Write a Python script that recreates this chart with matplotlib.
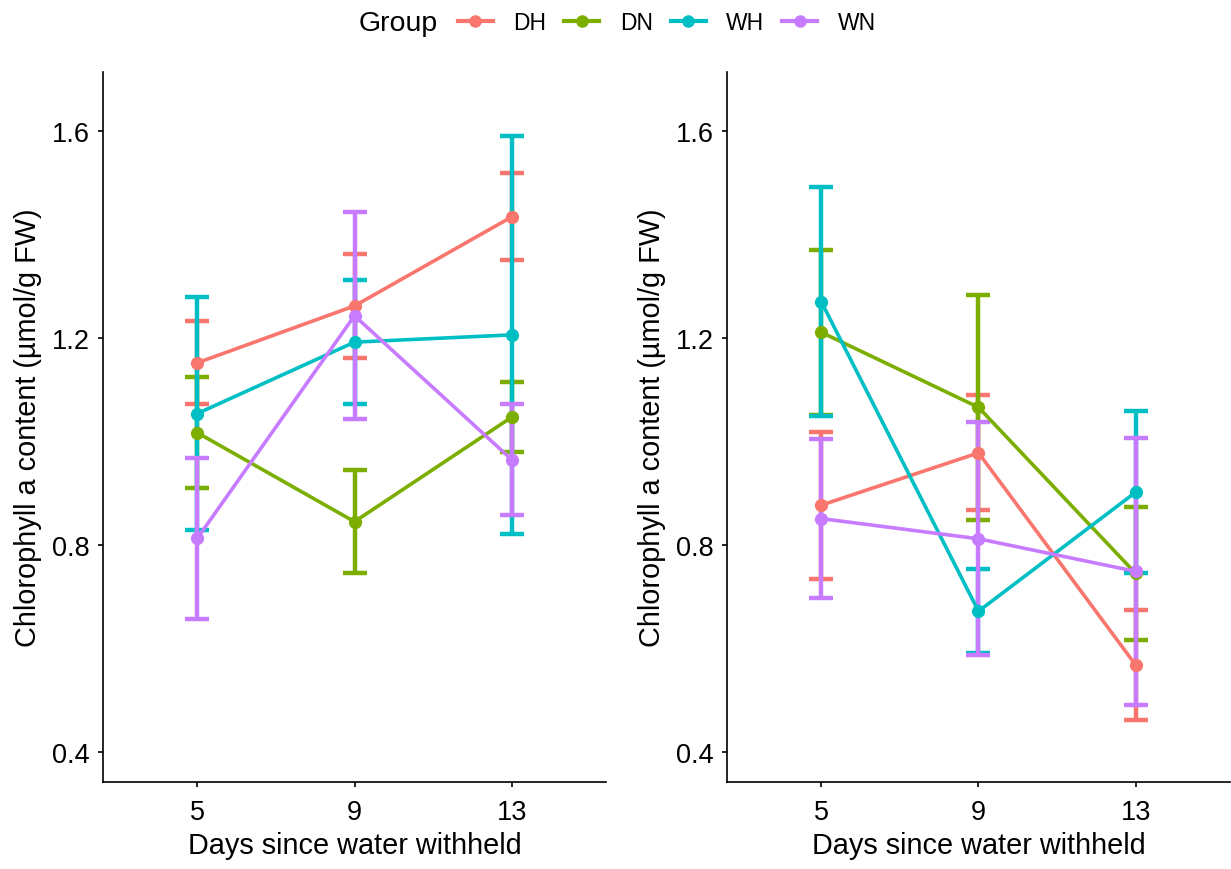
import numpy as np
import matplotlib.pyplot as plt
from matplotlib.lines import Line2D

plt.rcParams['font.family'] = ['Liberation Sans', 'DejaVu Sans']

days = ["5", "9", "13"]
groups = ["DH", "DN", "WH", "WN"]
colors = {"DH": "#F8766D", "DN": "#7CAE00", "WH": "#00BFC4", "WN": "#C77CFF"}

# left panel: mean and error per group at days 5, 9, 13
left_mean = {
    "DH": [1.152, 1.262, 1.434],
    "DN": [1.017, 0.845, 1.047],
    "WH": [1.054, 1.192, 1.206],
    "WN": [0.813, 1.243, 0.965],
}
left_err = {
    "DH": [0.080, 0.100, 0.084],
    "DN": [0.107, 0.099, 0.067],
    "WH": [0.225, 0.120, 0.385],
    "WN": [0.156, 0.200, 0.108],
}

# right panel
right_mean = {
    "DH": [0.877, 0.978, 0.568],
    "DN": [1.211, 1.066, 0.745],
    "WH": [1.270, 0.672, 0.902],
    "WN": [0.851, 0.812, 0.749],
}
right_err = {
    "DH": [0.142, 0.111, 0.107],
    "DN": [0.160, 0.217, 0.128],
    "WH": [0.221, 0.081, 0.157],
    "WN": [0.154, 0.225, 0.258],
}

W, H = 1231, 870
fig = plt.figure(figsize=(W / 100, H / 100), dpi=100)
ax1 = fig.add_axes([103 / W, 1 - 783 / H, 503 / W, 710 / H])
ax2 = fig.add_axes([727 / W, 1 - 783 / H, 503 / W, 710 / H])

x = np.arange(len(days))

def draw_panel(ax, means, errs):
    for g in groups:
        ax.errorbar(x, means[g], yerr=errs[g], fmt='none', ecolor=colors[g],
                    elinewidth=3.2, capsize=8.3, capthick=3.2, zorder=2)
    for g in groups:
        ax.plot(x, means[g], color=colors[g], lw=2.6, zorder=3)
    for g in groups:
        ax.plot(x, means[g], 'o', color=colors[g], ms=8.5, zorder=4)
    ax.set_xlim(-0.6, 2.6)
    ax.set_ylim(0.342, 1.714)
    ax.set_xticks(x)
    ax.set_xticklabels(days)
    ax.set_yticks([0.4, 0.8, 1.2, 1.6])
    ax.set_yticklabels(["0.4", "0.8", "1.2", "1.6"])
    for s in ["top", "right"]:
        ax.spines[s].set_visible(False)
    for s in ["left", "bottom"]:
        ax.spines[s].set_linewidth(1.2)
    ax.tick_params(axis='both', direction='out', length=3.5, width=1.2,
                   labelsize=19.5, colors='black')
    ax.tick_params(axis='x', pad=9)
    ax.tick_params(axis='y', pad=6)
    ax.set_xlabel("Days since water withheld", fontsize=20.8, labelpad=4)
    ax.set_ylabel("Chlorophyll a content (µmol/g FW)", fontsize=20.8, labelpad=7)

draw_panel(ax1, left_mean, left_err)
draw_panel(ax2, right_mean, right_err)

# legend row across the top: title text followed by the group keys
fig.text(359 / W, 1 - 24 / H, "Group", fontsize=20.5, ha='left', va='center')
handles = [Line2D([0], [0], color=colors[g], lw=3.0, marker='o', ms=8) for g in groups]
fig.legend(handles, groups, loc='center left', bbox_to_anchor=(458 / W, 1 - 24 / H),
           ncol=4, frameon=False, fontsize=16.5, borderpad=0, borderaxespad=0,
           handlelength=1.52, handletextpad=0.9, columnspacing=0.78)

fig.savefig("out.png", dpi=100)
